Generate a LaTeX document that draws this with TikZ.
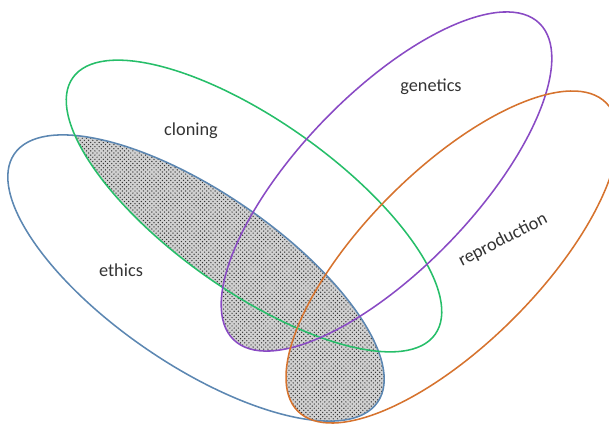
\documentclass[tikz,border=0pt]{standalone}
\usepackage{fontspec}
\setmainfont{Carlito}
\usetikzlibrary{patterns}
\definecolor{ethicsblue}{RGB}{92,135,178}
\definecolor{cloninggreen}{RGB}{38,190,105}
\definecolor{geneticspurple}{RGB}{137,74,196}
\definecolor{reproorange}{RGB}{214,115,46}
\tikzset{
    setline/.style={line width=1.1pt},
    setlabel/.style={font=\fontsize{13}{15}\selectfont, text=black!80},
    overlap/.style={pattern=crosshatch dots, pattern color=black!80}
}
\newcommand{\ethicsset}{(196,145) ellipse [x radius=220, y radius=86.5, rotate=-34.3]}
\newcommand{\cloningset}{(254,217) ellipse [x radius=222, y radius=85, rotate=-35.3]}
\newcommand{\geneticsset}{(386.5,241.5) ellipse [x radius=220, y radius=87.5, rotate=46]}
\newcommand{\reproset}{(452,166) ellipse [x radius=218, y radius=87, rotate=45]}
\begin{document}
\begin{tikzpicture}[x=0.025cm,y=0.025cm]

                    \useasboundingbox (0,0) rectangle (609,423);
                    \clip (0,0) rectangle (609,423);

                    \begin{scope}
                        \clip \ethicsset;
                        \fill[white!82!black] \cloningset \geneticsset \reproset;
                        \fill[overlap] \cloningset \geneticsset \reproset;
                    \end{scope}

                    \draw[setline, ethicsblue] \ethicsset;
                    \draw[setline, cloninggreen] \cloningset;
                    \draw[setline, geneticspurple] \geneticsset;
                    \draw[setline, reproorange] \reproset;

                    \node (ethics) at (121,153) [setlabel] {ethics};
                    \node (cloning) at (191,292) [setlabel] {cloning};
                    \node (genetics) at (431,336) [setlabel] {genetics};
                    \node (reproduction) at (503,183) [setlabel, rotate=27] {reproduction};
                \end{tikzpicture}
\end{document}
